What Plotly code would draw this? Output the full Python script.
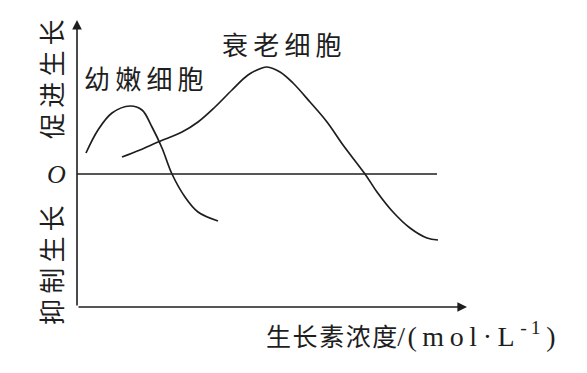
import plotly.graph_objects as go

# Data (x: auxin concentration, arbitrary units; y: growth effect, + promote / - inhibit)
young_x = [9, 21, 35, 53, 65, 75, 85, 95, 108, 121, 141]
young_y = [21, 44, 61, 68, 64, 47, 26, 0, -23, -38, -47]

old_x = [45, 63, 81, 105, 121, 138, 155, 171, 185, 190, 203, 216, 233, 250, 266, 288, 300, 316, 333, 350, 361]
old_y = [17, 24, 32, 42, 52, 67, 84, 99, 106, 107, 102, 91, 72, 52, 29, 0, -18, -38, -54, -64, -66]

young_label = "幼嫩细胞"
old_label = "衰老细胞"
promote_label = "促进生长"
inhibit_label = "抑制生长"
x_title_cn = "生长素浓度"
x_title_unit = "(mol·L"

# axis extents
x_axis_end = 390
zero_line_end = 360
y_axis_top = 154
y_axis_bottom = -133

INK = "#1e1e1e"
CJK = "Noto Sans CJK SC"
SERIF = "Liberation Serif"
HS = "\u200a"  # hair space
TS = "\u2009"  # thin space


def track(s, sep):
    return sep.join(list(s))


fig = go.Figure()
fig.add_trace(go.Scatter(x=young_x, y=young_y, mode="lines",
                         line=dict(color=INK, width=1.7, shape="spline", smoothing=1.0),
                         hoverinfo="skip", showlegend=False))
fig.add_trace(go.Scatter(x=old_x, y=old_y, mode="lines",
                         line=dict(color=INK, width=1.7, shape="spline", smoothing=1.0),
                         hoverinfo="skip", showlegend=False))

# zero line
fig.add_shape(type="line", x0=0, x1=zero_line_end, y0=0, y1=0,
              line=dict(color=INK, width=1.6))

x_title = (track(x_title_cn, HS)
           + "<span style='font-family:Liberation Serif;font-size:28px'>/" + HS + track(x_title_unit, TS)
           + TS + "<sup>-" + TS + "1</sup>" + TS + ")</span>")

annotations = [
    # y axis arrow
    dict(x=0, y=y_axis_top, ax=0, ay=y_axis_bottom, xref="x", yref="y", axref="x", ayref="y",
         showarrow=True, arrowhead=2, arrowsize=1.2, arrowwidth=1.6, arrowcolor=INK, text=""),
    # x axis arrow
    dict(x=x_axis_end, y=y_axis_bottom, ax=0, ay=y_axis_bottom, xref="x", yref="y", axref="x", ayref="y",
         showarrow=True, arrowhead=2, arrowsize=1.2, arrowwidth=1.6, arrowcolor=INK, text=""),
    dict(x=67, y=97, text=track(young_label, TS), showarrow=False, font=dict(family=CJK, size=26, color=INK)),
    dict(x=205, y=131, text=track(old_label, TS), showarrow=False, font=dict(family=CJK, size=26, color=INK)),
    dict(x=-27, y=95, text=track(promote_label, TS), textangle=-90, showarrow=False,
         font=dict(family=CJK, size=26, color=INK)),
    dict(x=-27, y=-91, text=track(inhibit_label, TS), textangle=-90, showarrow=False,
         font=dict(family=CJK, size=26, color=INK)),
    dict(x=-21, y=0, text="<i>O</i>", showarrow=False, font=dict(family=SERIF, size=26, color=INK)),
    dict(x=334, y=-161, showarrow=False, text=x_title,
         font=dict(family=CJK, size=25, color=INK)),
]

fig.update_layout(
    width=587, height=373,
    margin=dict(l=0, r=0, t=0, b=0),
    paper_bgcolor="white", plot_bgcolor="white",
    xaxis=dict(range=[-77, 510], visible=False, fixedrange=True),
    yaxis=dict(range=[-199, 174], visible=False, fixedrange=True),
    annotations=annotations,
    showlegend=False,
)

fig.write_html("out.html")
